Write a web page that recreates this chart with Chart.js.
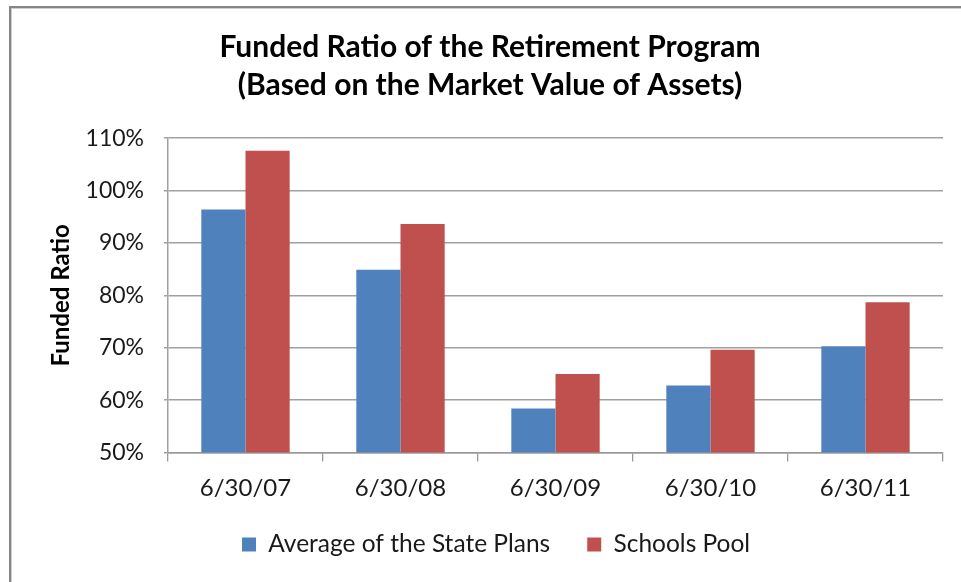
<!DOCTYPE html>
<html>
<head>
<meta charset="utf-8">
<script src="https://cdn.jsdelivr.net/npm/chart.js@4.4.1/dist/chart.umd.min.js"></script>
<style>
  html, body { margin: 0; padding: 0; background: #ffffff; }
  #wrap { width: 961px; height: 582px; position: relative; }
</style>
</head>
<body>
<div id="wrap"><canvas id="c" width="961" height="582"></canvas></div>
<script>
const categories = ['6/30/07', '6/30/08', '6/30/09', '6/30/10', '6/30/11'];
const statePlans = [96.4, 84.9, 58.4, 62.8, 70.3];
const schoolsPool = [107.6, 93.6, 65.0, 69.6, 78.7];
const seriesNames = ['Average of the State Plans', 'Schools Pool'];
const titleLines = ['Funded Ratio of the Retirement Program', '(Based on the Market Value of Assets)'];
const yAxisTitle = 'Funded Ratio';

const FONT = 'Lato, "Open Sans", "DejaVu Sans", sans-serif';

const framePlugin = {
  id: 'frame',
  beforeDraw(chart) {
    const ctx = chart.ctx;
    ctx.save();
    ctx.fillStyle = '#ffffff';
    ctx.fillRect(0, 0, chart.width, chart.height);
    ctx.fillStyle = '#858585';
    ctx.fillRect(9, 6, chart.width - 9, 2);
    ctx.fillRect(9, 6, 2, chart.height - 6);
    ctx.fillStyle = '#cfcfcf';
    ctx.fillRect(11, 8, chart.width - 11, 1);
    ctx.fillRect(11, 8, 1, chart.height - 8);
    ctx.restore();
  }
};

const legendPlace = {
  id: 'legendPlace',
  afterLayout(chart) {
    const l = chart.legend;
    if (!l) return;
    const pad = l.options.labels.padding;
    const half = Math.max(l.options.labels.font.size, l.options.labels.boxHeight) / 2;
    const h = l.height;
    l.left = 242 - pad;
    l.top = 544.5 - pad - half;
    l.bottom = l.top + h;
  }
};

new Chart(document.getElementById('c'), {
  type: 'bar',
  data: {
    labels: categories,
    datasets: [
      { label: seriesNames[0], data: statePlans, backgroundColor: '#4F81BD', borderWidth: 0 },
      { label: seriesNames[1], data: schoolsPool, backgroundColor: '#C0504D', borderWidth: 0 }
    ]
  },
  options: {
    responsive: false,
    animation: false,
    devicePixelRatio: 1,
    layout: { padding: { left: 37, right: 18, top: 0, bottom: 0 } },
    datasets: { bar: { categoryPercentage: 0.57, barPercentage: 1.0 } },
    scales: {
      x: {
        grid: { display: true, drawOnChartArea: false, drawTicks: true, tickLength: 9, color: '#9a9a9a', lineWidth: 1.3 },
        border: { display: true, color: '#9a9a9a', width: 1.5 },
        ticks: { color: '#1a1a1a', font: { family: FONT, size: 24 }, padding: 12 },
        afterFit(s) { s.height = 58; }
      },
      y: {
        min: 50,
        max: 110,
        ticks: {
          stepSize: 10,
          color: '#1a1a1a',
          font: { family: FONT, size: 23 },
          padding: 20,
          callback: (v) => v + '%'
        },
        grid: { color: '#a0a0a0', lineWidth: 1.5, drawTicks: true, tickLength: 4 },
        border: { display: true, color: '#a0a0a0', width: 1.5 },
        title: {
          display: true,
          text: yAxisTitle,
          color: '#000000',
          font: { family: FONT, size: 24, weight: 'bold' },
          padding: { top: 10, bottom: 0 }
        },
        afterFit(s) { s.width = 131; }
      }
    },
    plugins: {
      title: {
        display: true,
        text: titleLines,
        color: '#000000',
        font: { family: FONT, size: 30, weight: 'bold', lineHeight: 1.27 },
        padding: { top: 28, bottom: 34 }
      },
      legend: {
        display: true,
        position: 'bottom',
        align: 'start',
        labels: {
          boxWidth: 14,
          boxHeight: 14,
          padding: 37,
          color: '#1a1a1a',
          font: { family: FONT, size: 24.5 }
        }
      },
      tooltip: { enabled: false }
    }
  },
  plugins: [framePlugin, legendPlace]
});
</script>
</body>
</html>
